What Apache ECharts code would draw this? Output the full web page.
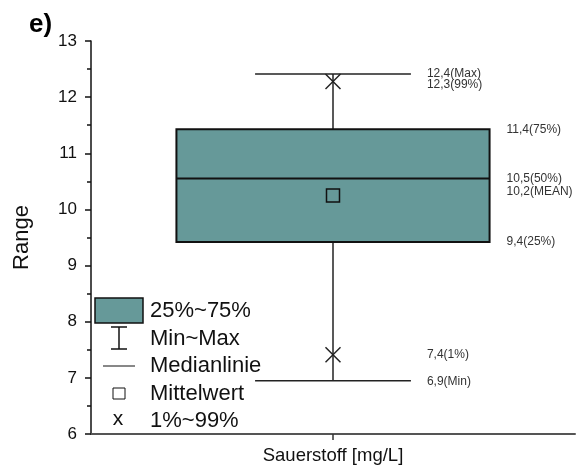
<!DOCTYPE html>
<html><head><meta charset="utf-8">
<script src="https://cdn.jsdelivr.net/npm/echarts@6/dist/echarts.min.js"></script>
<style>html,body{margin:0;padding:0;background:#fff}#c{width:576px;height:468px}</style>
</head><body><div id="c"></div>
<script>
const categories = ['Sauerstoff [mg/L]'];
const minVals = [6.95];
const q1Vals = [9.42];
const medianVals = [10.55];
const q3Vals = [11.43];
const maxVals = [12.41];
const meanVals = [10.25];
const p1Vals = [7.41];
const p99Vals = [12.28];
const yTicks = [6, 7, 8, 9, 10, 11, 12, 13];
const statLabels = {
  max: ['12,4(Max)'], p99: ['12,3(99%)'], q3: ['11,4(75%)'], med: ['10,5(50%)'],
  mean: ['10,2(MEAN)'], q1: ['9,4(25%)'], p1: ['7,4(1%)'], min: ['6,9(Min)']
};
const legendItems = ['25%~75%', 'Min~Max', 'Medianlinie', 'Mittelwert', '1%~99%'];

const BOX = '#669999';
const FONT = 'Liberation Sans, Arial, sans-serif';

const data = categories.map((c, i) => [i, minVals[i], q1Vals[i], medianVals[i], q3Vals[i], maxVals[i], meanVals[i], p1Vals[i], p99Vals[i]]);

function renderItem(params, api) {
  const i = api.value(0);
  const band = api.size([1, 0])[0];
  const bw = band * 0.647, cw = band * 0.322;
  const c = (v) => api.coord([i, v]);
  const pMin = c(api.value(1)), pQ1 = c(api.value(2)), pMed = c(api.value(3)), pQ3 = c(api.value(4)),
        pMax = c(api.value(5)), pMean = c(api.value(6)), p1 = c(api.value(7)), p99 = c(api.value(8));
  const x = pMed[0];
  const ln = (x1, y1, x2, y2, w, col) => ({ type: 'line', shape: { x1, y1, x2, y2 }, style: { stroke: col || '#111', lineWidth: w || 1.5 } });
  const cross = (p, s) => ({ type: 'group', children: [
    ln(p[0] - s, p[1] - s, p[0] + s, p[1] + s, 1.5, '#222'),
    ln(p[0] - s, p[1] + s, p[0] + s, p[1] - s, 1.5, '#222')] });
  const txt = (t, tx, ty) => ({ type: 'text', style: { text: t, x: tx, y: ty, fill: '#333', font: '12px ' + FONT, textVerticalAlign: 'middle' } });
  const idx = params.dataIndex;
  const lx1 = x + cw / 2 + 16, lx2 = x + bw / 2 + 17;
  return { type: 'group', children: [
    ln(x, pMax[1], x, pQ3[1], 1.5, '#222'),
    ln(x, pQ1[1], x, pMin[1], 1.5, '#222'),
    ln(x - cw / 2, pMax[1], x + cw / 2, pMax[1], 1.5, '#222'),
    ln(x - cw / 2, pMin[1], x + cw / 2, pMin[1], 1.5, '#222'),
    { type: 'rect', shape: { x: x - bw / 2, y: pQ3[1], width: bw, height: pQ1[1] - pQ3[1] }, style: { fill: BOX, stroke: '#111', lineWidth: 2 } },
    ln(x - bw / 2, pMed[1], x + bw / 2, pMed[1], 2, '#111'),
    { type: 'rect', shape: { x: x - 6.5, y: pMean[1] - 6.5, width: 13, height: 13 }, style: { fill: 'none', stroke: '#111', lineWidth: 1.5 } },
    cross(p99, 7.5), cross(p1, 7.5),
    txt(statLabels.max[idx], lx1, pMax[1]),
    txt(statLabels.p99[idx], lx1, pMax[1] + 11),
    txt(statLabels.q3[idx], lx2, pQ3[1] + 1),
    txt(statLabels.med[idx], lx2, pMed[1]),
    txt(statLabels.mean[idx], lx2, pMean[1] - 4),
    txt(statLabels.q1[idx], lx2, pQ1[1]),
    txt(statLabels.p1[idx], lx1, p1[1]),
    txt(statLabels.min[idx], lx1, pMin[1] + 1)
  ] };
}

// legend built from graphic elements
const lgX = 95, lgY = 298, step = 27.5;
const legendGraphics = [
  { type: 'rect', shape: { x: lgX, y: lgY, width: 48, height: 25 }, style: { fill: BOX, stroke: '#111', lineWidth: 1.5 } },
  { type: 'line', shape: { x1: 119, y1: 327, x2: 119, y2: 349 }, style: { stroke: '#111', lineWidth: 1.5 } },
  { type: 'line', shape: { x1: 111, y1: 327, x2: 127, y2: 327 }, style: { stroke: '#111', lineWidth: 1.5 } },
  { type: 'line', shape: { x1: 111, y1: 349, x2: 127, y2: 349 }, style: { stroke: '#111', lineWidth: 1.5 } },
  { type: 'line', shape: { x1: 103, y1: 366, x2: 135, y2: 366 }, style: { stroke: '#111', lineWidth: 1 } },
  { type: 'rect', shape: { x: 113, y: 388, width: 12, height: 11 }, style: { fill: 'none', stroke: '#111', lineWidth: 1 } },
  { type: 'text', style: { text: 'x', x: 118, y: 419, fill: '#111', font: '21px ' + FONT, textAlign: 'center', textVerticalAlign: 'middle' } }
];
legendItems.forEach((t, k) => legendGraphics.push({ type: 'text', style: { text: t, x: 150, y: 311 + k * step, fill: '#111', font: '22px ' + FONT, textVerticalAlign: 'middle' } }));
legendGraphics.push({ type: 'text', style: { text: 'e)', x: 29, y: 25, fill: '#000', font: 'bold 26px ' + FONT, textVerticalAlign: 'middle' } });

const chart = echarts.init(document.getElementById('c'), null, { renderer: 'canvas' });
chart.setOption({
  backgroundColor: '#fff',
  animation: false,
  grid: { left: 91, right: 1, top: 41, bottom: 34 },
  xAxis: {
    type: 'category', data: categories, boundaryGap: true,
    axisLine: { lineStyle: { color: '#555', width: 2 } },
    axisTick: { show: true, alignWithLabel: true, length: 6, lineStyle: { color: '#333', width: 1.5 } },
    axisLabel: { color: '#111', fontSize: 18.5, fontFamily: FONT, margin: 12 }
  },
  yAxis: {
    type: 'value', min: yTicks[0], max: yTicks[yTicks.length - 1], interval: 1,
    name: 'Range', nameLocation: 'middle', nameGap: 58, nameRotate: 90,
    nameTextStyle: { color: '#111', fontSize: 22, fontFamily: FONT },
    axisLine: { show: true, lineStyle: { color: '#111', width: 1.5 } },
    axisTick: { show: true, length: 6, lineStyle: { color: '#111', width: 1.5 } },
    minorTick: { show: true, splitNumber: 2, length: 4, lineStyle: { color: '#111', width: 1.5 } },
    splitLine: { show: false },
    axisLabel: { color: '#111', fontSize: 17, fontFamily: FONT, margin: 14 }
  },
  graphic: legendGraphics,
  series: [{ type: 'custom', renderItem, data, encode: { x: 0, y: [1, 2, 3, 4, 5] }, clip: false }]
});
</script></body></html>
